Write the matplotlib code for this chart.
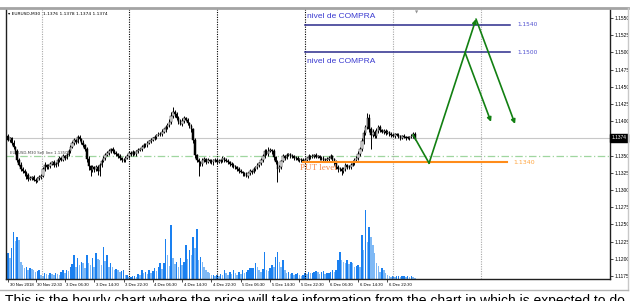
import matplotlib
matplotlib.use("Agg")
import matplotlib.pyplot as plt
import matplotlib.transforms as mtransforms
from matplotlib.lines import Line2D

# EURUSD M30 bars, first bar 30 Nov 2018 15:00
first_open = 1.1378
closes = [
    1.1373, 1.1375, 1.1369, 1.1362, 1.1356, 1.1344, 1.1337, 1.1331, 1.1327, 1.1325,
    1.1322, 1.1316, 1.1318, 1.1319, 1.1315, 1.1313, 1.1317, 1.1319, 1.1321, 1.1330,
    1.1336, 1.1333, 1.1335, 1.1338, 1.1340, 1.1336, 1.1338, 1.1343, 1.1346, 1.1344,
    1.1349, 1.1347, 1.1351, 1.1357, 1.1363, 1.1368, 1.1372, 1.1370, 1.1377, 1.1374,
    1.1369, 1.1365, 1.1359, 1.1345, 1.1335, 1.1329, 1.1333, 1.1330, 1.1334, 1.1328,
    1.1336, 1.1342, 1.1347, 1.1351, 1.1354, 1.1356, 1.1359, 1.1357, 1.1354, 1.1352,
    1.1349, 1.1346, 1.1343, 1.1344, 1.1347, 1.1350, 1.1354, 1.1352, 1.1355, 1.1353,
    1.1356, 1.1358, 1.1359, 1.1363, 1.1366, 1.1365, 1.1369, 1.1371, 1.1373, 1.1375,
    1.1377, 1.1380, 1.1382, 1.1381, 1.1385, 1.1388, 1.1391, 1.1395, 1.1399, 1.1408,
    1.1414, 1.1410, 1.1405, 1.1399, 1.1396, 1.1401, 1.1404, 1.1402, 1.1397, 1.1393,
    1.1388, 1.1372, 1.1351, 1.1344, 1.1340, 1.1338, 1.1343, 1.1345, 1.1341, 1.1343,
    1.1342, 1.1340, 1.1343, 1.1344, 1.1341, 1.1342, 1.1343, 1.1346, 1.1344, 1.1342,
    1.1340, 1.1338, 1.1336, 1.1335, 1.1333, 1.1330, 1.1328, 1.1326, 1.1324, 1.1323,
    1.1321, 1.1324, 1.1327, 1.1326, 1.1330, 1.1333, 1.1336, 1.1339, 1.1343, 1.1350,
    1.1356, 1.1353, 1.1357, 1.1358, 1.1356, 1.1348, 1.1341, 1.1330, 1.1333, 1.1342,
    1.1349, 1.1347, 1.1351, 1.1352, 1.1350, 1.1349, 1.1347, 1.1346, 1.1344, 1.1345,
    1.1343, 1.1342, 1.1344, 1.1346, 1.1349, 1.1348, 1.1350, 1.1351, 1.1348, 1.1349,
    1.1346, 1.1347, 1.1344, 1.1343, 1.1345, 1.1347, 1.1349, 1.1345, 1.1340, 1.1334,
    1.1330, 1.1331, 1.1327, 1.1331, 1.1336, 1.1334, 1.1333, 1.1337, 1.1340, 1.1344,
    1.1347, 1.1352, 1.1359, 1.1371, 1.1383, 1.1392, 1.1405, 1.1388, 1.1380, 1.1384,
    1.1379, 1.1386, 1.1391, 1.1387, 1.1385, 1.1386, 1.1383, 1.1384, 1.1382, 1.1380,
    1.1379, 1.1381, 1.1380, 1.1378, 1.1376, 1.1378, 1.1377, 1.1376, 1.1376, 1.1377,
    1.1379, 1.1381, 1.1374,
]
# wicks in pips above / below the body
wick_up = [
    3, 2, 2, 3, 2, 4, 2, 3, 2, 3, 2, 3, 2, 2, 3, 2, 2, 3, 2, 3,
    4, 2, 3, 3, 2, 3, 2, 3, 3, 2, 3, 2, 3, 3, 2, 3, 4, 2, 3, 3,
    2, 3, 2, 3, 4, 2, 3, 2, 3, 2, 3, 3, 2, 3, 2, 3, 2, 3, 2, 3,
    2, 3, 2, 2, 3, 2, 3, 2, 3, 2, 2, 3, 2, 3, 2, 3, 2, 2, 3, 2,
    3, 2, 3, 2, 3, 2, 3, 3, 4, 5, 6, 3, 3, 2, 4, 3, 4, 2, 3, 2,
    3, 2, 3, 2, 3, 2, 3, 3, 2, 3, 2, 3, 2, 3, 2, 3, 2, 3, 2, 2,
    3, 2, 2, 3, 2, 2, 3, 2, 2, 2, 3, 2, 3, 2, 3, 2, 3, 2, 3, 3,
    4, 3, 5, 3, 2, 3, 2, 3, 3, 2, 3, 2, 3, 2, 2, 3, 2, 2, 3, 2,
    2, 3, 2, 2, 3, 2, 3, 2, 3, 2, 2, 3, 2, 2, 3, 2, 3, 2, 2, 3,
    2, 3, 2, 3, 3, 2, 3, 2, 3, 2, 3, 4, 3, 5, 4, 3, 7, 5, 3, 4,
    3, 4, 3, 3, 2, 3, 2, 3, 2, 2, 3, 2, 2, 3, 2, 2, 3, 2, 2, 2,
    3, 4, 3,
]
wick_dn = [
    2, 3, 3, 2, 4, 3, 2, 3, 2, 5, 6, 3, 2, 3, 2, 3, 2, 2, 3, 2,
    2, 3, 2, 3, 2, 3, 2, 3, 2, 2, 2, 3, 2, 2, 3, 2, 2, 3, 2, 3,
    2, 3, 2, 4, 6, 9, 3, 4, 3, 6, 8, 3, 2, 3, 2, 3, 2, 3, 2, 3,
    3, 2, 3, 2, 3, 2, 3, 2, 3, 2, 3, 2, 2, 3, 2, 3, 2, 2, 3, 2,
    2, 3, 2, 3, 2, 2, 3, 2, 3, 3, 3, 4, 3, 3, 2, 3, 3, 2, 3, 3,
    3, 4, 5, 4, 20, 3, 3, 2, 3, 2, 3, 2, 3, 2, 3, 2, 3, 2, 3, 2,
    2, 3, 2, 3, 2, 3, 3, 2, 3, 2, 2, 3, 2, 3, 2, 3, 2, 3, 3, 3,
    3, 2, 3, 2, 3, 4, 3, 18, 4, 3, 2, 3, 2, 2, 3, 2, 3, 2, 2, 3,
    3, 2, 3, 2, 2, 3, 2, 3, 2, 2, 3, 2, 3, 2, 2, 3, 2, 3, 4, 3,
    4, 3, 5, 3, 3, 4, 3, 3, 2, 3, 3, 3, 3, 3, 4, 3, 3, 4, 21, 3,
    4, 3, 3, 3, 2, 3, 3, 2, 3, 3, 2, 3, 2, 2, 3, 2, 2, 3, 2, 3,
    2, 3, 2,
]
volumes = [
    26, 21, 31, 47, 38, 42, 39, 17, 14, 11, 12, 9, 11, 10, 9, 7, 8, 9, 4, 3,
    6, 5, 4, 6, 5, 4, 6, 5, 4, 7, 9, 6, 9, 8, 12, 15, 24, 12, 21, 14,
    17, 16, 11, 24, 16, 14, 21, 12, 26, 20, 19, 14, 32, 18, 24, 12, 16, 12, 9, 10,
    9, 7, 8, 9, 4, 4, 2, 2, 3, 3, 2, 5, 4, 9, 6, 7, 5, 9, 6, 8,
    11, 8, 12, 16, 10, 16, 40, 24, 13, 54, 21, 15, 17, 12, 21, 14, 17, 34, 20, 29,
    24, 42, 31, 50, 19, 22, 17, 12, 9, 7, 6, 4, 4, 3, 4, 3, 5, 4, 9, 6,
    4, 7, 5, 9, 6, 4, 7, 5, 9, 6, 7, 9, 11, 11, 11, 16, 12, 9, 7, 10,
    27, 9, 8, 11, 14, 12, 22, 27, 17, 12, 19, 9, 6, 7, 5, 6, 4, 5, 6, 4,
    3, 4, 6, 5, 7, 6, 6, 7, 8, 7, 5, 7, 8, 5, 6, 6, 7, 9, 7, 9,
    19, 27, 19, 17, 16, 19, 15, 17, 16, 12, 13, 14, 12, 44, 29, 69, 37, 52, 42, 34,
    26, 16, 13, 7, 11, 9, 6, 4, 3, 2, 3, 2, 3, 3, 2, 3, 3, 2, 3, 2,
    3, 2, 1,
]

x_ticks = [0, 15, 31, 47, 63, 79, 95, 111, 127, 143, 159, 175, 191, 207]
x_labels = ["30 Nov 2018", "30 Nov 22:30", "3 Dec 06:30", "3 Dec 14:30", "3 Dec 22:30",
            "4 Dec 06:30", "4 Dec 14:30", "4 Dec 22:30", "5 Dec 06:30", "5 Dec 14:30",
            "5 Dec 22:30", "6 Dec 06:30", "6 Dec 14:30", "6 Dec 22:30"]
separators = [18.5, 66, 114, 162, 210, 258]
sep_colors = ["#a8a8a8", "black", "black", "black", "#a8a8a8", "#a8a8a8"]
price_ticks = [1.1175, 1.1200, 1.1225, 1.1250, 1.1275, 1.1300, 1.1325, 1.1350,
               1.1400, 1.1425, 1.1450, 1.1475, 1.1500, 1.1525, 1.1550]

bid = 1.1374
bid_line = 1.13756
sell_line = 1.13494
buy_levels = [1.1540, 1.1500]
buy_span = [162, 274]
put_level = 1.1340
put_span = [161, 272]

path_x = [221, 229.7, 255.3, 276.6]
path_y = [1.1380, 1.1339, 1.15485, 1.1396]
branch_x = [249.3, 263.5]
branch_y = [1.1500, 1.1399]

fig = plt.figure(figsize=(6.38, 3.01), dpi=100)
ax = fig.add_axes([6 / 638, 22 / 301, 604 / 638, 270 / 301])
axv = ax.twinx()
ax.set_zorder(axv.get_zorder() + 1)
ax.patch.set_visible(False)

n = len(closes)
xs = list(range(n))
opens = [first_open] + closes[:-1]
highs = [max(o, c) + u / 10000 for o, c, u in zip(opens, closes, wick_up)]
lows = [min(o, c) - d / 10000 for o, c, d in zip(opens, closes, wick_dn)]

# volumes (blue, rising darker)
vcol = []
prev = 0
for v in volumes:
    vcol.append("#1a80f0" if v >= prev else "#7fb9f5")
    prev = v
axv.bar(xs, volumes, width=0.8, color=vcol, linewidth=0)
axv.set_ylim(0, 270)
axv.set_yticks([])
for s in axv.spines.values():
    s.set_visible(False)

# reference lines
ax.axhline(bid_line, color="#c8c8c8", lw=0.8, zorder=1)
ax.axhline(sell_line, color="#9fd69f", lw=0.9, ls=(0, (6, 2, 1, 2)), zorder=1)
for sx, sc in zip(separators, sep_colors):
    ax.axvline(sx, color=sc, lw=0.8, ls=(0, (1, 1.2)), zorder=1)

# candles
ax.vlines(xs, lows, highs, color="black", lw=0.7, zorder=3)
for x, o, c in zip(xs, opens, closes):
    lo, hi = min(o, c), max(o, c)
    if hi - lo < 0.00004:
        hi = lo + 0.00004
    ax.bar(x, hi - lo, bottom=lo, width=0.8,
           color="white" if c > o else "black", edgecolor="black", linewidth=0.35, zorder=4)

# levels
for lv in buy_levels:
    ax.plot(buy_span, [lv, lv], color="#2b2b8c", lw=1.1, zorder=5)
    ax.text(buy_span[1] + 3.7, lv, "%.4f" % lv, color="#5050d0", fontsize=4.2,
            va="center", ha="left", family="DejaVu Sans")
ax.text(163, 1.15515, "nivel de COMPRA", color="#3a3ad0", fontsize=6,
        va="center", ha="left", family="Liberation Sans")
ax.text(163, 1.14875, "nivel de COMPRA", color="#3a3ad0", fontsize=6,
        va="center", ha="left", family="Liberation Sans")
ax.plot(put_span, [put_level, put_level], color="#ff8c1a", lw=1.5, zorder=5)
ax.text(put_span[1] + 3.7, put_level, "%.4f" % put_level, color="#ffa640", fontsize=4.5,
        va="center", ha="left")
ax.text(159.3, 1.1332, "PUT level", color="#f5884a", fontsize=6.5, va="center",
        ha="left", family="Liberation Serif", zorder=6)
ax.text(1, 1.13538, "EURUSD,M30 Sell line 1.1350", color="#444444", fontsize=2.8,
        va="center", ha="left")

# projected path
green = "#128012"
ax.plot(path_x[:2], path_y[:2], color=green, lw=1.2, zorder=6)
for i in (1, 2):
    ax.annotate("", xy=(path_x[i + 1], path_y[i + 1]), xytext=(path_x[i], path_y[i]),
                arrowprops=dict(arrowstyle="-|>", color=green, lw=1.2, mutation_scale=6,
                                shrinkA=0, shrinkB=0), zorder=6)
ax.annotate("", xy=(branch_x[1], branch_y[1]), xytext=(branch_x[0], branch_y[0]),
            arrowprops=dict(arrowstyle="-|>", color=green, lw=1.2, mutation_scale=6,
                            shrinkA=0, shrinkB=0), zorder=6)

ax.set_xlim(-1.1, 328.4)
ax.set_ylim(1.11706, 1.15631)

ax.yaxis.tick_right()
ax.set_yticks(price_ticks)
ax.set_yticklabels(["%.4f" % p for p in price_ticks], family="Liberation Sans")
ax.tick_params(axis="y", labelsize=3.5, length=2, width=0.5, pad=1.5, colors="black")
ax.set_xticks(x_ticks)
ax.set_xticklabels(x_labels, ha="left", family="Liberation Sans")
ax.tick_params(axis="x", labelsize=3.1, length=2, width=0.5, pad=1)
offset = mtransforms.ScaledTranslation(1.5 / 100, 0, fig.dpi_scale_trans)
for lab in ax.get_xticklabels():
    lab.set_transform(lab.get_transform() + offset)

for side in ["left", "bottom", "right"]:
    ax.spines[side].set_color("#202020")
    ax.spines[side].set_linewidth(1.0)
ax.spines["top"].set_visible(False)

# current price box
trans = mtransforms.blended_transform_factory(ax.transAxes, ax.transData)
ax.text(1.002, bid_line, "1.1374", transform=trans, color="white", fontsize=3.5,
        va="center", ha="left", family="Liberation Sans",
        bbox=dict(boxstyle="square,pad=0.3", fc="black", ec="black"), zorder=10)

ax.text(0.004, 0.99, "\u25be EURUSD,M30  1.1376 1.1378 1.1374 1.1374", transform=ax.transAxes,
        fontsize=3.2, va="top", ha="left", color="black")
ax.text(223, 0.995, "\u25bc", transform=mtransforms.blended_transform_factory(ax.transData, ax.transAxes),
        fontsize=3, color="#909090", ha="center", va="top")

# window frame
fig.add_artist(Line2D([0, 628 / 638], [1 - 8 / 301] * 2, color="#a4a4a4", lw=2.0))
fig.add_artist(Line2D([628 / 638] * 2, [1 - 8 / 301, 1 - 290 / 301], color="#c8c8c8", lw=1.0))
fig.add_artist(Line2D([0, 628 / 638], [1 - 289.5 / 301] * 2, color="#b4b4b4", lw=1.0))

fig.text(5 / 638, 1 - 294 / 301,
         "This is the hourly chart where the price will take information from the chart in which is expected to do",
         fontsize=10, va="top", ha="left", color="black", family="Liberation Sans")

fig.savefig("out.png", dpi=100)
